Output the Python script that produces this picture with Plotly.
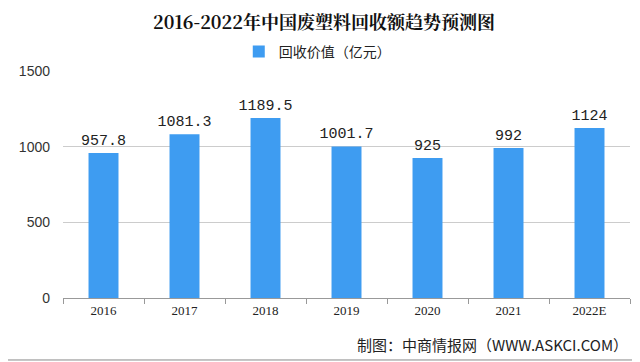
import plotly.graph_objects as go

categories = ["2016", "2017", "2018", "2019", "2020", "2021", "2022E"]
values = [957.8, 1081.3, 1189.5, 1001.7, 925, 992, 1124]
value_labels = ["957.8", "1081.3", "1189.5", "1001.7", "925", "992", "1124"]
y_ticks = [0, 500, 1000, 1500]

W, H = 632, 354

fig = go.Figure()
fig.add_trace(go.Bar(
    x=categories, y=values, name="回收价值（亿元）",
    marker=dict(color="#3E9CF1", line=dict(width=0)),
    width=0.37,
    text=value_labels, textposition="outside", constraintext="none",
    textfont=dict(family="Liberation Mono, DejaVu Sans Mono", size=15, color="#222222"),
    cliponaxis=False,
))

fig.update_layout(
    width=W, height=H,
    margin=dict(l=55, r=10, t=63, b=64, autoexpand=False),
    paper_bgcolor="white", plot_bgcolor="white",
    title=dict(text="<b>2016-2022年中国废塑料回收额趋势预测图</b>",
               x=0.5, xanchor="center", yref="container", y=0.958, yanchor="middle",
               font=dict(family="Noto Serif CJK SC, Noto Sans CJK SC", size=18, color="#111111")),
    showlegend=True,
    legend=dict(orientation="h", x=0.31, xanchor="left", yref="container", y=0.876, yanchor="middle",
                font=dict(family="Noto Sans CJK SC", size=14, color="#222222"),
                itemwidth=30),
    font=dict(family="Noto Sans CJK SC", color="#333333"),
)

fig.update_yaxes(range=[0, 1500], tickvals=y_ticks, showgrid=True, gridcolor="#cccccc",
                 gridwidth=1, zeroline=False, showline=False,
                 tickfont=dict(family="Liberation Sans", size=14, color="#333333"),
                 ticks="", ticklabelstandoff=12)
fig.update_xaxes(showline=True, linecolor="#999999", linewidth=1, ticks="outside",
                 tickson="boundaries", ticklen=5, tickcolor="#999999",
                 tickfont=dict(family="Liberation Serif", size=13, color="#222222"))

fig.add_annotation(text="制图：中商情报网（WWW.ASKCI.COM）", xref="paper", yref="paper",
                   x=1.0, y=-0.207, xanchor="right", yanchor="middle", showarrow=False,
                   font=dict(family="Noto Sans CJK SC", size=15, color="#222222"))
fig.add_shape(type="line", xref="paper", yref="paper", x0=-0.1, x1=1.02, y0=-0.273, y1=-0.273,
              line=dict(color="#888888", width=1))

fig.write_html("out.html")
